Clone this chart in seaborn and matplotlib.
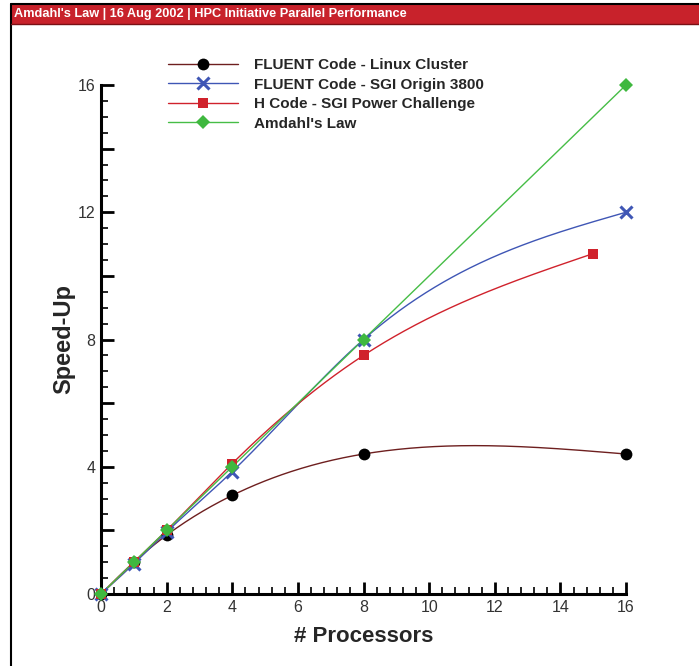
import numpy as np
import pandas as pd
import matplotlib
matplotlib.use("Agg")
import matplotlib.pyplot as plt
import seaborn as sns
from matplotlib.lines import Line2D
from matplotlib.patches import Rectangle
from matplotlib.ticker import MultipleLocator, FuncFormatter

# ---------------- data ----------------
linux_x = [0, 1, 2, 4, 8, 16]
linux_y = [0, 1.0, 1.85, 3.1, 4.4, 4.4]
sgi_x = [0, 1, 2, 4, 8, 16]
sgi_y = [0, 0.95, 1.95, 3.85, 8.0, 12.0]
hcode_x = [0, 1, 2, 4, 8, 15]
hcode_y = [0, 1.0, 2.0, 4.1, 7.5, 10.7]
amdahl_x = [0, 1, 2, 4, 8, 16]
amdahl_y = [0, 1, 2, 4, 8, 16]

labels = ["FLUENT Code - Linux Cluster", "FLUENT Code - SGI Origin 3800",
          "H Code - SGI Power Challenge", "Amdahl's Law"]
header_text = "Amdahl's Law | 16 Aug 2002 | HPC Initiative Parallel Performance"
xticks = [0, 2, 4, 6, 8, 10, 12, 14, 16]
yticks = [0, 4, 8, 12, 16]

# ---------------- style ----------------
sns.set_style("white")
plt.rcParams['font.family'] = ['Liberation Sans Narrow', 'Liberation Sans', 'DejaVu Sans']

line_colors = ["#6e1f1f", "#3f56b5", "#d0222c", "#46bd46"]
mark_colors = ["#000000", "#3f56b5", "#d0222c", "#3fb83f"]
markers = ["o", "x", "s", "D"]
msizes = [8.5, 8, 7, 7]
medges = [0, 2.2, 0, 0]

def natural_spline(x, y, n=300):
    x = np.asarray(x, float); y = np.asarray(y, float)
    m = len(x); h = np.diff(x)
    A = np.zeros((m, m)); b = np.zeros(m)
    A[0, 0] = 1; A[-1, -1] = 1
    for i in range(1, m - 1):
        A[i, i - 1] = h[i - 1]; A[i, i] = 2 * (h[i - 1] + h[i]); A[i, i + 1] = h[i]
        b[i] = 6 * ((y[i + 1] - y[i]) / h[i] - (y[i] - y[i - 1]) / h[i - 1])
    M = np.linalg.solve(A, b)
    xs = np.linspace(x[0], x[-1], n)
    idx = np.clip(np.searchsorted(x, xs) - 1, 0, m - 2)
    x0 = x[idx]; x1 = x[idx + 1]; hh = x1 - x0
    ys = (M[idx] * (x1 - xs) ** 3 / (6 * hh) + M[idx + 1] * (xs - x0) ** 3 / (6 * hh)
          + (y[idx] / hh - M[idx] * hh / 6) * (x1 - xs)
          + (y[idx + 1] / hh - M[idx + 1] * hh / 6) * (xs - x0))
    return xs, ys

fig = plt.figure(figsize=(6.99, 6.66), dpi=100)
ax = fig.add_axes([101 / 699, 72 / 666, 525 / 699, 509 / 666])

series = [(linux_x, linux_y), (sgi_x, sgi_y), (hcode_x, hcode_y), (amdahl_x, amdahl_y)]
handles = []
for i, (xv, yv) in enumerate(series):
    xs, ys = natural_spline(xv, yv)
    sns.lineplot(x=xs, y=ys, ax=ax, color=line_colors[i], linewidth=1.0, sort=False,
                 estimator=None, legend=False)
for i, (xv, yv) in enumerate(series):
    ax.plot(xv, yv, linestyle="none", marker=markers[i], color=mark_colors[i],
            markersize=msizes[i], markeredgewidth=medges[i], zorder=5, clip_on=False)
    handles.append(Line2D([], [], color=line_colors[i], linewidth=1.0, marker=markers[i],
                          markerfacecolor=mark_colors[i], markeredgecolor=mark_colors[i],
                          markeredgewidth=medges[i], markersize=msizes[i]))

ax.set_xlim(0, 16)
ax.set_ylim(0, 16)
for s in ["top", "right"]:
    ax.spines[s].set_visible(False)
for s in ["left", "bottom"]:
    ax.spines[s].set_linewidth(2.2)
    ax.spines[s].set_color("black")

ax.set_xticks(xticks)
ax.xaxis.set_minor_locator(MultipleLocator(0.4))
ax.yaxis.set_major_locator(MultipleLocator(2))
ax.yaxis.set_minor_locator(MultipleLocator(0.5))
ax.yaxis.set_major_formatter(FuncFormatter(lambda v, p: f"{int(v)}" if int(round(v)) in yticks else ""))
ax.tick_params(axis="both", which="major", direction="in", length=9, width=2.0,
               labelsize=11.5, colors="black", pad=4)
ax.tick_params(axis="both", which="minor", direction="in", length=5, width=1.2, colors="black")
ax.tick_params(axis="x", which="both", bottom=True)
ax.tick_params(axis="y", which="both", left=True)
for lab in ax.get_xticklabels() + ax.get_yticklabels():
    lab.set_color("#333333")

ax.set_xlabel("# Processors", fontsize=16, fontweight="bold", labelpad=8)
ax.set_ylabel("Speed-Up", fontsize=17, fontweight="bold", labelpad=2)

fig.legend(handles, labels, loc="upper left", bbox_to_anchor=(168 / 699, 1 - 58 / 666),
           frameon=False, handlelength=4.6, handletextpad=1.0,
           labelspacing=0.36, borderpad=0, borderaxespad=0,
           prop={"weight": "bold", "size": 11})

# header bar and border
fig.patches.append(Rectangle((11 / 699, 1 - 24 / 666), 1, 20 / 666, transform=fig.transFigure,
                             facecolor="#c8222b", edgecolor="none", zorder=1))
fig.add_artist(Line2D([11 / 699, 1], [1 - 4 / 666, 1 - 4 / 666], color="black", linewidth=1.5,
                      transform=fig.transFigure))
fig.add_artist(Line2D([11 / 699, 11 / 699], [0, 1 - 4 / 666], color="black", linewidth=1.5,
                      transform=fig.transFigure))
fig.add_artist(Line2D([11 / 699, 1], [1 - 24 / 666, 1 - 24 / 666], color="#7a1015", linewidth=1.0,
                      transform=fig.transFigure))
fig.text(14 / 699, 1 - 14.5 / 666, header_text, color="white", fontsize=9.2, fontweight="bold",
         va="center", ha="left")

fig.savefig("out.png", dpi=100)
